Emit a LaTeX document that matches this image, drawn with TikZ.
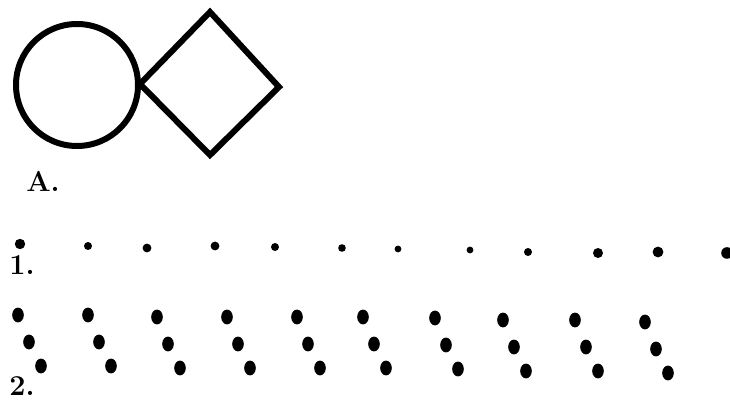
\documentclass[tikz,border=0pt]{standalone}
\usepackage{tikz}
\usetikzlibrary{positioning}

\tikzset{
  shapeline/.style={line width=3pt,line join=miter},
  lbl/.style={font=\bfseries\Large,inner sep=0pt},
  spot/.style={fill=black,draw=none},
}

\begin{document}
\begin{tikzpicture}[x=0.5pt,y=-0.5pt]
\useasboundingbox (0,0) rectangle (730,400);
% figure A
\draw[shapeline] (77,85) circle[radius=30.5pt];
\coordinate (dl) at (140,84);
\coordinate (dt) at (210,12);
\coordinate (dr) at (279,87);
\coordinate (db) at (210,155);
\draw[shapeline] (dl) -- (dt) -- (dr) -- (db) -- cycle;
\node[lbl] (labA) at (43,181) {A.};

% row 1
\foreach \px/\py/\r in {20/244/2.6,88/246/2,147/248/2.2,215/246/2.2,275/247/2,342/248/1.9,
                        398/249/1.7,470/250/1.7,528/252/2,598/253/2.5,658/252/2.7,727/253/2.9}
  \fill[spot] (\px,\py) circle[radius=\r pt];
\node[lbl] (labOne) at (22,265) {1.};

% row 2
\foreach \px/\py in {18/315,88/315,157/317,227/317,297/317,363/317,435/318,503/320,575/320,645/322}{
  \fill[spot] (\px,\py) ellipse[x radius=2.9pt,y radius=3.7pt];
  \fill[spot] (\px+11,\py+27) ellipse[x radius=2.9pt,y radius=3.7pt];
  \fill[spot] (\px+23,\py+51) ellipse[x radius=2.9pt,y radius=3.7pt];
}
\node[lbl] (labTwo) at (22,386) {2.};
\end{tikzpicture}
\end{document}
